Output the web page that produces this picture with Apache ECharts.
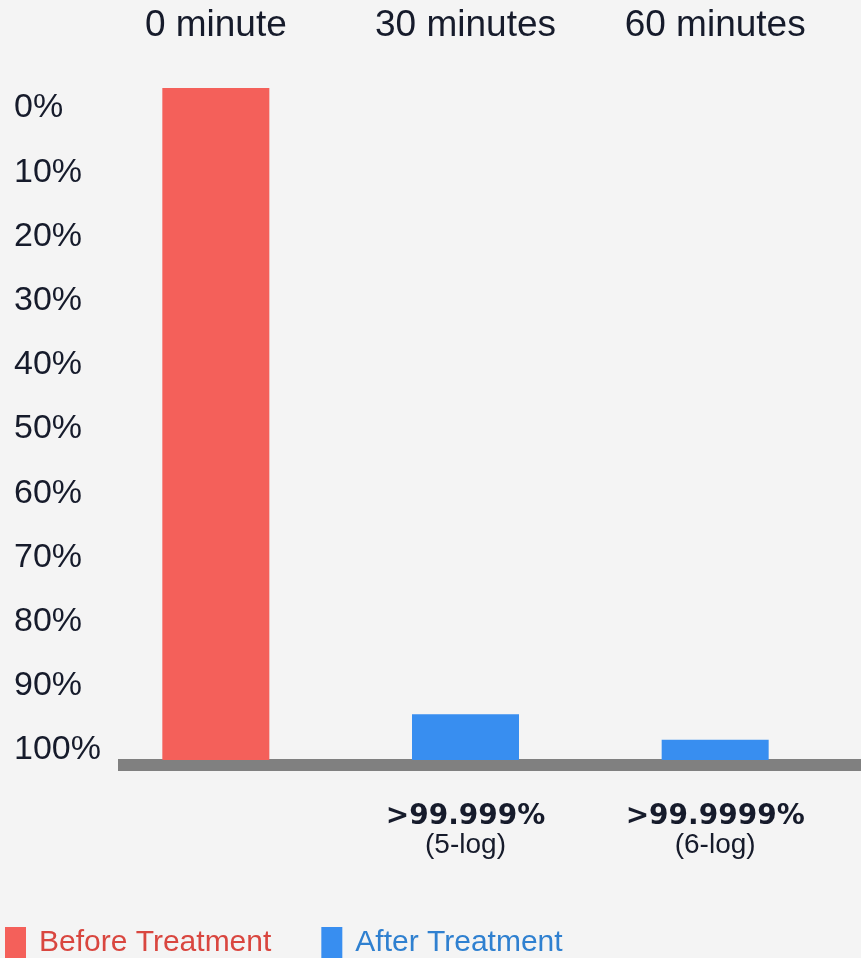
<!DOCTYPE html>
<html>
<head>
<meta charset="utf-8">
<script src="https://cdn.jsdelivr.net/npm/echarts@6/dist/echarts.min.js"></script>
<style>
  html, body { margin: 0; padding: 0; background: #f4f4f4; }
  #chart { width: 861px; height: 958px; }
</style>
</head>
<body>
<div id="chart"></div>
<script>
var categories = ['0 minute', '30 minutes', '60 minutes'];
var beforeValues = [100, '-', '-'];
var afterValues = ['-', 6.8, 3.0];
var reductionLabels = ['', '>99.999%', '>99.9999%'];
var logLabels = ['', '(5-log)', '(6-log)'];
var percentTicks = ['0%', '10%', '20%', '30%', '40%', '50%', '60%', '70%', '80%', '90%', '100%'];

var textColor = '#161b2b';
var redColor = '#f4605a';
var blueColor = '#388ef0';

var myChart = echarts.init(document.getElementById('chart'));

var option = {
  backgroundColor: '#f4f4f4',
  textStyle: { fontFamily: 'Liberation Sans' },
  legend: {
    left: 0,
    top: 922,
    icon: 'rect',
    itemWidth: 21,
    itemHeight: 32,
    itemGap: 50,
    textStyle: { fontSize: 30, padding: [0, 0, 0, 8] },
    data: [
      { name: 'Before Treatment', textStyle: { color: '#d9463f' } },
      { name: 'After Treatment', textStyle: { color: '#2f80d0' } }
    ]
  },
  grid: [
    // percent labels + thick baseline
    { left: 118, right: 0, top: 108, bottom: 958 - 750 },
    // bars
    { left: 91, right: 21, top: 88, bottom: 958 - 760 }
  ],
  xAxis: [
    {
      gridIndex: 0,
      type: 'value',
      min: 0,
      max: 1,
      offset: 15,
      axisLine: { show: true, onZero: false, lineStyle: { color: '#808080', width: 12, cap: 'butt' } },
      axisTick: { show: false },
      axisLabel: { show: false },
      splitLine: { show: false }
    },
    {
      gridIndex: 1,
      type: 'category',
      data: categories,
      position: 'bottom',
      axisLine: { show: false },
      axisTick: { show: false },
      axisLabel: {
        interval: 0,
        margin: 43,
        formatter: function (v, i) {
          if (!reductionLabels[i]) return '';
          return '{b|' + reductionLabels[i] + '}\n{s|' + logLabels[i] + '}';
        },
        rich: {
          b: { fontFamily: 'DejaVu Sans', fontWeight: 'bold', fontSize: 28, lineHeight: 28, color: textColor },
          s: { fontFamily: 'Liberation Sans', fontSize: 28, lineHeight: 28, color: textColor }
        }
      }
    },
    {
      gridIndex: 1,
      type: 'category',
      data: categories,
      position: 'top',
      axisLine: { show: false },
      axisTick: { show: false },
      axisLabel: { interval: 0, margin: 44, fontSize: 37, color: textColor }
    }
  ],
  yAxis: [
    {
      gridIndex: 0,
      type: 'category',
      inverse: true,
      boundaryGap: false,
      data: percentTicks,
      axisLine: { show: false },
      axisTick: { show: false },
      axisLabel: { interval: 0, align: 'left', margin: 104, fontSize: 34, color: textColor },
      splitLine: { show: false }
    },
    {
      gridIndex: 1,
      type: 'value',
      min: 0,
      max: 100,
      show: false
    }
  ],
  series: [
    {
      name: 'Before Treatment',
      type: 'bar',
      xAxisIndex: 1,
      yAxisIndex: 1,
      data: beforeValues,
      barWidth: 107,
      barGap: '-100%',
      itemStyle: { color: redColor }
    },
    {
      name: 'After Treatment',
      type: 'bar',
      xAxisIndex: 1,
      yAxisIndex: 1,
      data: afterValues,
      barWidth: 107,
      barGap: '-100%',
      itemStyle: { color: blueColor }
    }
  ]
};

myChart.setOption(option);
window.addEventListener('resize', function () {
  myChart.resize();
});
</script>
</body>
</html>
